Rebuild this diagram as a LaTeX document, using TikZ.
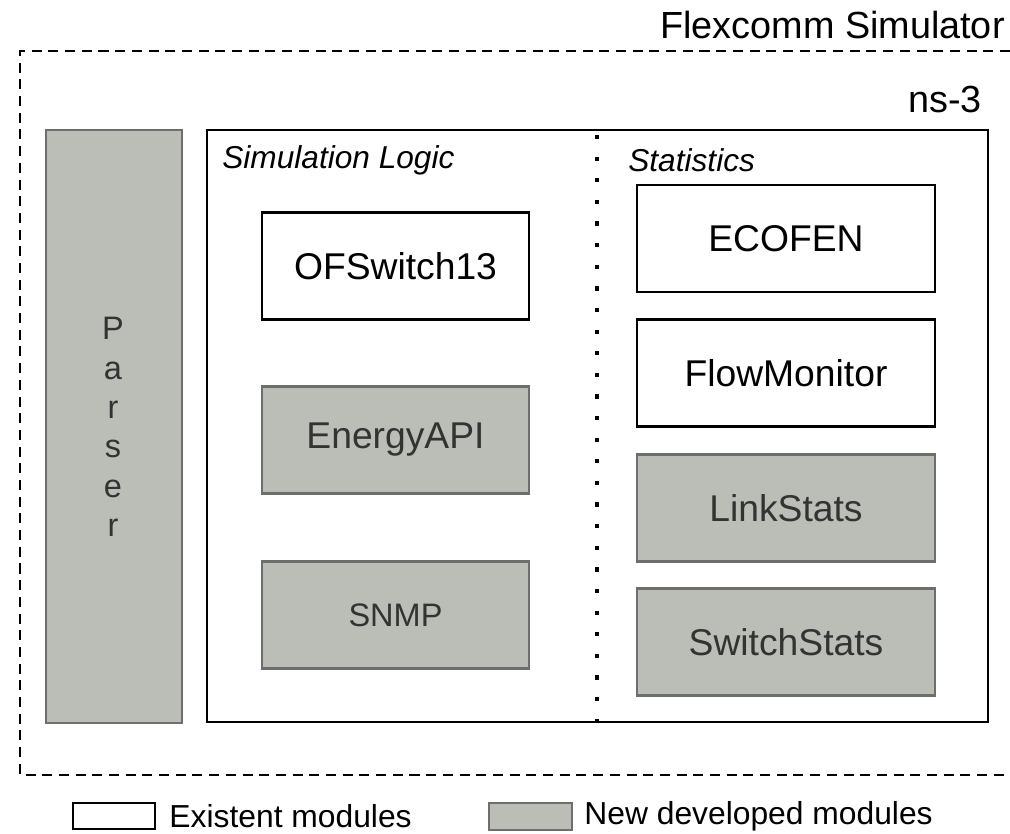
\documentclass[tikz,border=0pt]{standalone}
\usepackage{fontspec}
\setmainfont{Liberation Sans}
\usetikzlibrary{positioning}
\definecolor{modgray}{HTML}{BBBDB7}
\definecolor{modedge}{HTML}{6E6E6E}
\definecolor{modtext}{HTML}{333333}
\begin{document}
\begin{tikzpicture}[
    oldmod/.style={draw=black, line width=1.3pt, fill=white, minimum height=2.14cm, font=\fontsize{21.2}{25}\selectfont},
    newmod/.style={draw=modedge, line width=1.2pt, fill=modgray, text=modtext, minimum height=2.14cm, font=\fontsize{21.2}{25}\selectfont},
    heading/.style={font=\fontsize{18}{21}\selectfont\itshape, anchor=west, inner sep=0pt},
    legtext/.style={font=\fontsize{18.1}{21}\selectfont, anchor=west, inner sep=0pt}
]
\useasboundingbox (0,0) rectangle (20.2,16.68);

% Outer simulator frame (open on the right)
\draw[line width=1.5pt, dash pattern=on 5.7pt off 3.8pt] (20.2,15.66) -- (0.4,15.66) -- (0.4,1.18) -- (20.2,1.18);
\node[font=\fontsize{21.5}{25}\selectfont, anchor=east, inner sep=0pt] (flexcomm) at (20.1,16.18) {Flexcomm Simulator};

% ns-3 frame
\draw[line width=1.5pt] (4.14,2.24) rectangle (19.76,14.08);
\node[font=\fontsize{21.5}{25}\selectfont, anchor=east, inner sep=0pt] (nsthree) at (19.64,14.68) {ns-3};

% Parser column
\node[draw=modedge, line width=1.2pt, fill=modgray, text=modtext, minimum width=2.72cm, minimum height=11.86cm, inner sep=0pt] (parser) at (2.28,8.15) {};
\node[text=modtext, align=center, font=\fontsize{18.5}{22.4}\selectfont] (parsertext) at (2.26,8.14) {P\\a\\r\\s\\e\\r};

% Divider between logic and statistics
\draw[line width=2.3pt, dash pattern=on 2.4pt off 9.9pt] (11.94,13.98) -- (11.94,2.24);

% Headings
\node[heading] (simlogic) at (4.44,13.48) {Simulation Logic};
\node[heading] (stats) at (12.56,13.48) {Statistics};

% Simulation logic modules
\node[oldmod, minimum width=5.34cm] (ofswitch) at (7.91,11.36) {OFSwitch13};
\node[newmod, minimum width=5.34cm] (energyapi) at (7.91,7.88) {EnergyAPI};
\node[newmod, minimum width=5.34cm, font=\fontsize{18.5}{22}\selectfont] (snmp) at (7.91,4.38) {SNMP};

% Statistics modules
\node[oldmod, minimum width=5.96cm] (ecofen) at (15.72,11.91) {ECOFEN};
\node[oldmod, minimum width=5.96cm] (flowmon) at (15.72,9.22) {FlowMonitor};
\node[newmod, minimum width=5.96cm] (linkstats) at (15.72,6.52) {LinkStats};
\node[newmod, minimum width=5.96cm] (switchstats) at (15.72,3.84) {SwitchStats};

% Legend
\node[draw=black, line width=1.3pt, fill=white, minimum width=1.64cm, minimum height=0.52cm, inner sep=0pt] (legold) at (2.28,0.36) {};
\node[legtext, right=0.26cm of legold] (legoldtext) {Existent modules};
\node[draw=modedge, line width=1.2pt, fill=modgray, minimum width=1.66cm, minimum height=0.54cm, inner sep=0pt] (legnew) at (10.61,0.35) {};
\node[legtext, right=0.22cm of legnew] (legnewtext) {New developed modules};
\end{tikzpicture}
\end{document}
